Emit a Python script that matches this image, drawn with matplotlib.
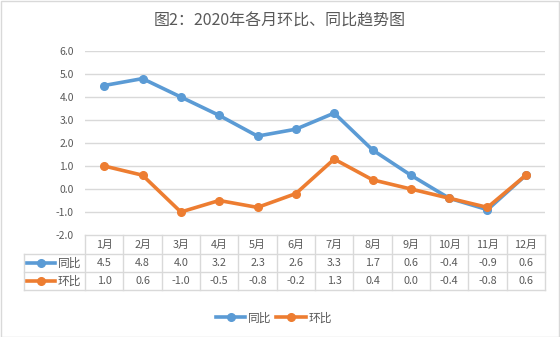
import matplotlib
matplotlib.use('Agg')
import matplotlib.pyplot as plt
from matplotlib.transforms import blended_transform_factory
from matplotlib.lines import Line2D
from matplotlib.patches import Rectangle

plt.rcParams['font.family'] = ['Noto Sans CJK SC', 'DejaVu Sans']

# 数据
months = ['1月', '2月', '3月', '4月', '5月', '6月', '7月', '8月', '9月', '10月', '11月', '12月']
tongbi = [4.5, 4.8, 4.0, 3.2, 2.3, 2.6, 3.3, 1.7, 0.6, -0.4, -0.9, 0.6]
huanbi = [1.0, 0.6, -1.0, -0.5, -0.8, -0.2, 1.3, 0.4, 0.0, -0.4, -0.8, 0.6]
series_names = ['同比', '环比']
yticks = [-2.0, -1.0, 0.0, 1.0, 2.0, 3.0, 4.0, 5.0, 6.0]

BLUE = '#5B9BD5'
ORANGE = '#ED7D31'
GRID = '#D9D9D9'
TXT = '#595959'

W, H = 560, 337
fig = plt.figure(figsize=(W / 100, H / 100), dpi=100)

# 画面边框
fig.add_artist(Rectangle((0.5 / W, 0.5 / H), 1 - 1.5 / W, 1 - 1.5 / H, transform=fig.transFigure,
                         fill=False, edgecolor=GRID, linewidth=1))

def fy(py):
    # 像素 y -> 图坐标
    return 1 - py / H

left, right, top, bottom = 85, 545, 51, 235
ax = fig.add_axes([left / W, fy(bottom), (right - left) / W, (bottom - top) / H])
x = list(range(len(months)))
l1, = ax.plot(x, tongbi, color=BLUE, lw=2.6, marker='o', ms=5.5, label=series_names[0], zorder=3)
l2, = ax.plot(x, huanbi, color=ORANGE, lw=2.6, marker='o', ms=5.5, label=series_names[1], zorder=4)
ax.set_xlim(-0.5, len(months) - 0.5)
ax.set_ylim(-2, 6)
ax.set_yticks(yticks)
ax.set_yticklabels([f'{v:.1f}' for v in yticks], fontsize=7.5, color=TXT)
ax.tick_params(axis='y', length=0, pad=8)
ax.set_xticks([])
for s in ax.spines.values():
    s.set_visible(False)
for v in yticks[1:]:
    ax.axhline(v, color=GRID, lw=1, zorder=1)

# 数据表
tr = blended_transform_factory(ax.transData, fig.transFigure)
row_y = [235, 254, 272, 290]
tab_left = 24
for i, py in enumerate(row_y):
    x0 = left if i == 0 else tab_left
    fig.add_artist(Line2D([x0 / W, right / W], [fy(py), fy(py)], transform=fig.transFigure, color=GRID, lw=1))
for i in range(len(months) + 1):
    fig.add_artist(Line2D([i - 0.5, i - 0.5], [fy(row_y[0]), fy(row_y[-1])], transform=tr, color=GRID, lw=1))
fig.add_artist(Line2D([tab_left / W, tab_left / W], [fy(row_y[1]), fy(row_y[-1])], transform=fig.transFigure, color=GRID, lw=1))

for i, m in enumerate(months):
    fig.text(i, fy((row_y[0] + row_y[1]) / 2), m, transform=tr, ha='center', va='center', fontsize=7.8, color=TXT)
    fig.text(i, fy((row_y[1] + row_y[2]) / 2), f'{tongbi[i]:.1f}', transform=tr, ha='center', va='center', fontsize=7.8, color=TXT)
    fig.text(i, fy((row_y[2] + row_y[3]) / 2), f'{huanbi[i]:.1f}', transform=tr, ha='center', va='center', fontsize=7.8, color=TXT)

for k, (name, c) in enumerate(zip(series_names, [BLUE, ORANGE])):
    yy = fy((row_y[k + 1] + row_y[k + 2]) / 2)
    fig.add_artist(Line2D([27 / W, 55 / W], [yy, yy], transform=fig.transFigure, color=c, lw=2.6))
    fig.add_artist(Line2D([41 / W], [yy], transform=fig.transFigure, color=c, marker='o', ms=5.5))
    fig.text(58 / W, yy, name, ha='left', va='center', fontsize=8.5, color=TXT)

fig.suptitle('图2：2020年各月环比、同比趋势图', x=0.5, y=fy(21), va='center', fontsize=11.5, color=TXT)

fig.legend(handles=[l1, l2], loc='center', bbox_to_anchor=(274 / W, fy(318)), ncol=2, frameon=False,
           fontsize=8.5, handlelength=2.5, columnspacing=0.35, handletextpad=0.25, labelcolor=TXT,
           borderpad=0)

fig.savefig('out.png', dpi=100)
